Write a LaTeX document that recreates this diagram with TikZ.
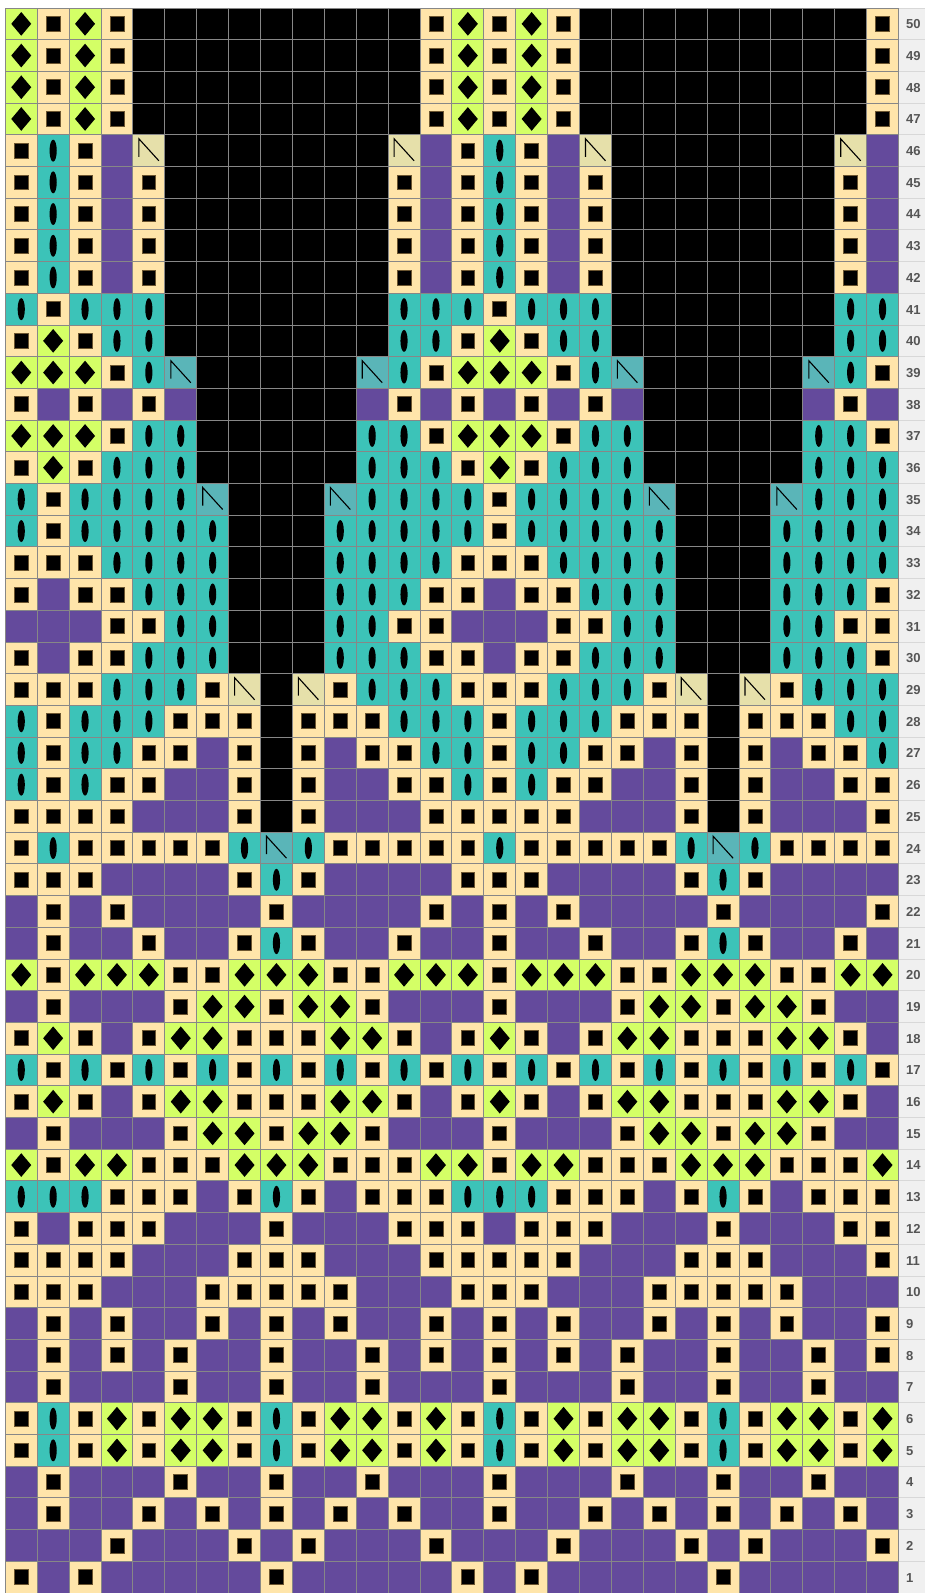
\documentclass[tikz,border=0pt]{standalone}
\usepackage{fontspec}
\newfontfamily\lblfont{Liberation Sans}
\definecolor{cream}{HTML}{FFE5AA}
\definecolor{purp}{HTML}{644A9C}
\definecolor{teal2}{HTML}{3CC3B8}
\definecolor{lime}{HTML}{D4FF66}
\definecolor{khaki}{HTML}{E6E0AA}
\definecolor{tealsl}{HTML}{5AB5B8}
\definecolor{gridc}{HTML}{878787}
\definecolor{labelbg}{HTML}{F0F0F0}
\definecolor{labelsep}{HTML}{D8D8D8}
\definecolor{labeltxt}{HTML}{555555}
\definecolor{brownsh}{HTML}{6B5530}
\tikzset{
  gridline/.style={draw=gridc, line width=0.9pt},
  sepline/.style={draw=labelsep, line width=0.9pt},
  lbl/.style={anchor=west, inner sep=0pt, text=labeltxt, font=\lblfont\bfseries\fontsize{13}{15}\selectfont},
  slashmark/.style={draw=black, line width=1.1pt, line join=miter},
}
\newcommand\cellbox[1]{\fill[#1] (0,0) rectangle (31.9,31.7);}
\newcommand\cellC{\cellbox{cream}\filldraw[fill=black, draw=brownsh, line width=0.7pt] (9,8.4) rectangle (22.9,23.3);}
\newcommand\cellL{\cellbox{lime}\fill[black] (15.95,4) -- (25.95,15.85) -- (15.95,27.7) -- (5.95,15.85) -- cycle;}
\newcommand\cellT{\cellbox{teal2}\fill[black] (15.95,15.85) ellipse [x radius=3.6pt, y radius=11pt];}
\newcommand\cellP{\cellbox{purp}}
\newcommand\cellK{\cellbox{black}}
\newcommand\cellX{\cellbox{khaki}\draw[slashmark] (6,22) -- (6,4) -- (26,26);}
\newcommand\cellY{\cellbox{tealsl}\draw[slashmark] (6,22) -- (6,4) -- (26,26);}
\begin{document}
\begin{tikzpicture}[x=1pt, y=-1pt]
\useasboundingbox (0,0) rectangle (925,1593);
\fill[white] (0,0) rectangle (925,1593);
\foreach \r/\row in {
50/{L,C,L,C,K,K,K,K,K,K,K,K,K,C,L,C,L,C,K,K,K,K,K,K,K,K,K,C},
49/{L,C,L,C,K,K,K,K,K,K,K,K,K,C,L,C,L,C,K,K,K,K,K,K,K,K,K,C},
48/{L,C,L,C,K,K,K,K,K,K,K,K,K,C,L,C,L,C,K,K,K,K,K,K,K,K,K,C},
47/{L,C,L,C,K,K,K,K,K,K,K,K,K,C,L,C,L,C,K,K,K,K,K,K,K,K,K,C},
46/{C,T,C,P,X,K,K,K,K,K,K,K,X,P,C,T,C,P,X,K,K,K,K,K,K,K,X,P},
45/{C,T,C,P,C,K,K,K,K,K,K,K,C,P,C,T,C,P,C,K,K,K,K,K,K,K,C,P},
44/{C,T,C,P,C,K,K,K,K,K,K,K,C,P,C,T,C,P,C,K,K,K,K,K,K,K,C,P},
43/{C,T,C,P,C,K,K,K,K,K,K,K,C,P,C,T,C,P,C,K,K,K,K,K,K,K,C,P},
42/{C,T,C,P,C,K,K,K,K,K,K,K,C,P,C,T,C,P,C,K,K,K,K,K,K,K,C,P},
41/{T,C,T,T,T,K,K,K,K,K,K,K,T,T,T,C,T,T,T,K,K,K,K,K,K,K,T,T},
40/{C,L,C,T,T,K,K,K,K,K,K,K,T,T,C,L,C,T,T,K,K,K,K,K,K,K,T,T},
39/{L,L,L,C,T,Y,K,K,K,K,K,Y,T,C,L,L,L,C,T,Y,K,K,K,K,K,Y,T,C},
38/{C,P,C,P,C,P,K,K,K,K,K,P,C,P,C,P,C,P,C,P,K,K,K,K,K,P,C,P},
37/{L,L,L,C,T,T,K,K,K,K,K,T,T,C,L,L,L,C,T,T,K,K,K,K,K,T,T,C},
36/{C,L,C,T,T,T,K,K,K,K,K,T,T,T,C,L,C,T,T,T,K,K,K,K,K,T,T,T},
35/{T,C,T,T,T,T,Y,K,K,K,Y,T,T,T,T,C,T,T,T,T,Y,K,K,K,Y,T,T,T},
34/{T,C,T,T,T,T,T,K,K,K,T,T,T,T,T,C,T,T,T,T,T,K,K,K,T,T,T,T},
33/{C,C,C,T,T,T,T,K,K,K,T,T,T,T,C,C,C,T,T,T,T,K,K,K,T,T,T,T},
32/{C,P,C,C,T,T,T,K,K,K,T,T,T,C,C,P,C,C,T,T,T,K,K,K,T,T,T,C},
31/{P,P,P,C,C,T,T,K,K,K,T,T,C,C,P,P,P,C,C,T,T,K,K,K,T,T,C,C},
30/{C,P,C,C,T,T,T,K,K,K,T,T,T,C,C,P,C,C,T,T,T,K,K,K,T,T,T,C},
29/{C,C,C,T,T,T,C,X,K,X,C,T,T,T,C,C,C,T,T,T,C,X,K,X,C,T,T,T},
28/{T,C,T,T,T,C,C,C,K,C,C,C,T,T,T,C,T,T,T,C,C,C,K,C,C,C,T,T},
27/{T,C,T,T,C,C,P,C,K,C,P,C,C,T,T,C,T,T,C,C,P,C,K,C,P,C,C,T},
26/{T,C,T,C,C,P,P,C,K,C,P,P,C,C,T,C,T,C,C,P,P,C,K,C,P,P,C,C},
25/{C,C,C,C,P,P,P,C,K,C,P,P,P,C,C,C,C,C,P,P,P,C,K,C,P,P,P,C},
24/{C,T,C,C,C,C,C,T,Y,T,C,C,C,C,C,T,C,C,C,C,C,T,Y,T,C,C,C,C},
23/{C,C,C,P,P,P,P,C,T,C,P,P,P,P,C,C,C,P,P,P,P,C,T,C,P,P,P,P},
22/{P,C,P,C,P,P,P,P,C,P,P,P,P,C,P,C,P,C,P,P,P,P,C,P,P,P,P,C},
21/{P,C,P,P,C,P,P,C,T,C,P,P,C,P,P,C,P,P,C,P,P,C,T,C,P,P,C,P},
20/{L,C,L,L,L,C,C,L,L,L,C,C,L,L,L,C,L,L,L,C,C,L,L,L,C,C,L,L},
19/{P,C,P,P,P,C,L,L,C,L,L,C,P,P,P,C,P,P,P,C,L,L,C,L,L,C,P,P},
18/{C,L,C,P,C,L,L,C,C,C,L,L,C,P,C,L,C,P,C,L,L,C,C,C,L,L,C,P},
17/{T,C,T,C,T,C,T,C,T,C,T,C,T,C,T,C,T,C,T,C,T,C,T,C,T,C,T,C},
16/{C,L,C,P,C,L,L,C,C,C,L,L,C,P,C,L,C,P,C,L,L,C,C,C,L,L,C,P},
15/{P,C,P,P,P,C,L,L,C,L,L,C,P,P,P,C,P,P,P,C,L,L,C,L,L,C,P,P},
14/{L,C,L,L,C,C,C,L,L,L,C,C,C,L,L,C,L,L,C,C,C,L,L,L,C,C,C,L},
13/{T,T,T,C,C,C,P,C,T,C,P,C,C,C,T,T,T,C,C,C,P,C,T,C,P,C,C,C},
12/{C,P,C,C,C,P,P,P,C,P,P,P,C,C,C,P,C,C,C,P,P,P,C,P,P,P,C,C},
11/{C,C,C,C,P,P,P,C,C,C,P,P,P,C,C,C,C,C,P,P,P,C,C,C,P,P,P,C},
10/{C,C,C,P,P,P,C,C,C,C,C,P,P,P,C,C,C,P,P,P,C,C,C,C,C,P,P,P},
9/{P,C,P,C,P,P,C,P,C,P,C,P,P,C,P,C,P,C,P,P,C,P,C,P,C,P,P,C},
8/{P,C,P,C,P,C,P,P,C,P,P,C,P,C,P,C,P,C,P,C,P,P,C,P,P,C,P,C},
7/{P,C,P,P,P,C,P,P,C,P,P,C,P,P,P,C,P,P,P,C,P,P,C,P,P,C,P,P},
6/{C,T,C,L,C,L,L,C,T,C,L,L,C,L,C,T,C,L,C,L,L,C,T,C,L,L,C,L},
5/{C,T,C,L,C,L,L,C,T,C,L,L,C,L,C,T,C,L,C,L,L,C,T,C,L,L,C,L},
4/{P,C,P,P,P,C,P,P,C,P,P,C,P,P,P,C,P,P,P,C,P,P,C,P,P,C,P,P},
3/{P,C,P,P,C,P,C,P,C,P,C,P,C,P,P,C,P,P,C,P,C,P,C,P,C,P,C,P},
2/{P,P,P,C,P,P,P,C,P,C,P,P,P,C,P,P,P,C,P,P,P,C,P,C,P,P,P,C},
1/{C,P,C,P,P,P,P,P,C,P,P,P,P,P,C,P,C,P,P,P,P,P,C,P,P,P,P,P}}{
  \pgfmathsetmacro\yt{8+(50-\r)*31.7}
  \foreach \c [count=\i] in \row {
    \pgfmathsetmacro\xl{5.3+(\i-1)*31.9}
    \begin{scope}[shift={(\xl,\yt)}]
      \csname cell\c\endcsname
    \end{scope}
  }
}
% label column
\fill[labelbg] (898.5,8) rectangle (925,1593);
\foreach \k in {1,...,49} {
  \draw[sepline] (898.5,{8+\k*31.7}) -- (925,{8+\k*31.7});
}
\draw[sepline] (898.5,8) -- (925,8);
\foreach \r in {1,...,50} {
  \node[lbl] (n\r) at (906,{8+(50-\r)*31.7+16.3}) {\r};
}
% grid
\foreach \k in {0,...,28} {
  \draw[gridline] ({5.3+\k*31.9},8) -- ({5.3+\k*31.9},1593);
}
\foreach \k in {0,...,50} {
  \draw[gridline] (5.3,{8+\k*31.7}) -- (898.5,{8+\k*31.7});
}
\end{tikzpicture}
\end{document}
